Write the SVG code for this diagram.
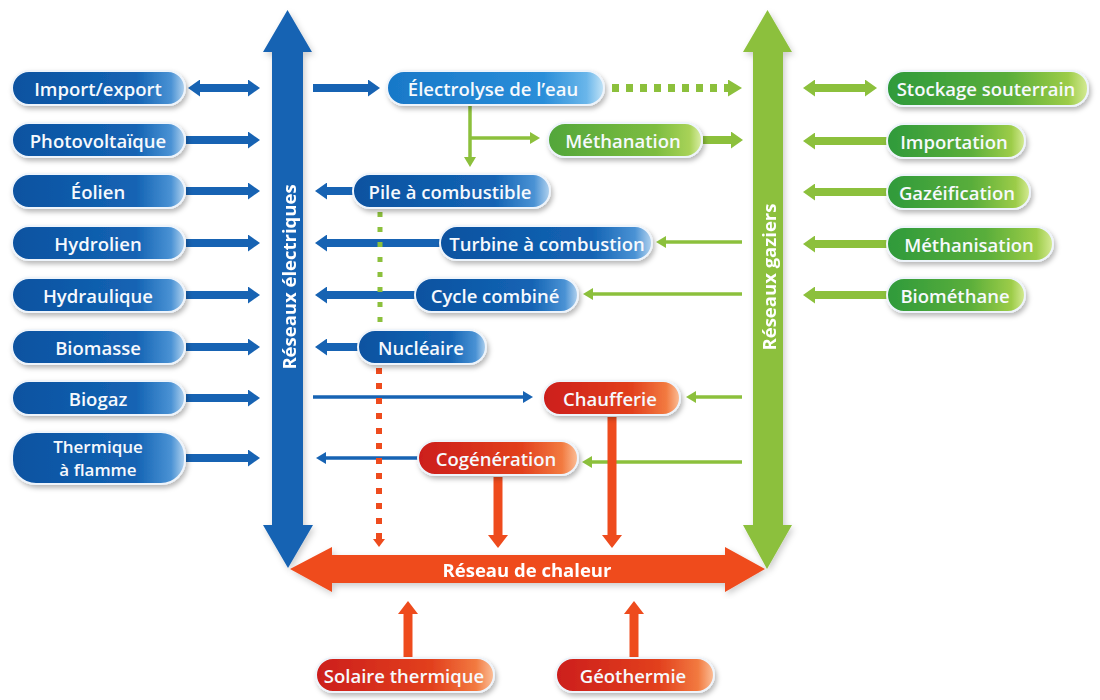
<svg xmlns="http://www.w3.org/2000/svg" width="1100" height="700" viewBox="0 0 1100 700">
<defs>
<style>
.t{font-family:"Open Sans","Liberation Sans",sans-serif;font-weight:600;font-size:18.5px;fill:#f6f9fd;text-anchor:middle;dominant-baseline:central}
.t2{font-size:17px}
.big{font-family:"Open Sans","Liberation Sans",sans-serif;font-weight:700;font-size:18.5px;fill:#ffffff;text-anchor:middle;dominant-baseline:central}
.pill{stroke:#eef4fb;stroke-width:2;filter:url(#sh)}
.pb{fill:url(#gBlue)}
.pl{fill:url(#gBlueL)}
.pg{fill:url(#gGreen)}
.pm{fill:url(#gGreenM)}
.pr{fill:url(#gRed)}
.bT{stroke:#1763b3;stroke-width:8;fill:none;marker-end:url(#mBT)}
.bN{stroke:#1763b3;stroke-width:3.5;fill:none;marker-end:url(#mBN)}
.gT{stroke:#8cc03c;stroke-width:8;fill:none;marker-end:url(#mGT)}
.gN{stroke:#8cc03c;stroke-width:3.5;fill:none;marker-end:url(#mGN)}
.rV{stroke:#ee4b1d;stroke-width:9;fill:none;marker-end:url(#mRV)}
</style>
<filter id="sh" x="-10%" y="-30%" width="125%" height="170%">
<feDropShadow dx="2" dy="3" stdDeviation="2.5" flood-color="#000" flood-opacity="0.28"/>
</filter>
<filter id="sh2" x="-10%" y="-10%" width="125%" height="125%">
<feDropShadow dx="2" dy="3" stdDeviation="3" flood-color="#000" flood-opacity="0.2"/>
</filter>
<linearGradient id="gBlue" x1="0" y1="0" x2="1" y2="0">
<stop offset="0" stop-color="#0a52a0"/><stop offset="0.72" stop-color="#1464b4"/><stop offset="0.92" stop-color="#4a92d4"/><stop offset="1" stop-color="#b3d3ef"/>
</linearGradient>
<linearGradient id="gBlueL" x1="0" y1="0" x2="1" y2="0">
<stop offset="0" stop-color="#1878c8"/><stop offset="0.72" stop-color="#2a8ed9"/><stop offset="0.92" stop-color="#6ab6ea"/><stop offset="1" stop-color="#c4e4f7"/>
</linearGradient>
<linearGradient id="gGreen" x1="0" y1="0" x2="1" y2="0">
<stop offset="0" stop-color="#2e9a3a"/><stop offset="0.6" stop-color="#5aae3a"/><stop offset="0.9" stop-color="#9ccc48"/><stop offset="1" stop-color="#d6eb96"/>
</linearGradient>
<linearGradient id="gGreenM" x1="0" y1="0" x2="1" y2="0">
<stop offset="0" stop-color="#52a63a"/><stop offset="0.7" stop-color="#7dbd40"/><stop offset="0.92" stop-color="#a8d258"/><stop offset="1" stop-color="#dcefa8"/>
</linearGradient>
<linearGradient id="gRed" x1="0" y1="0" x2="1" y2="0">
<stop offset="0" stop-color="#cc1e1a"/><stop offset="0.65" stop-color="#e2401e"/><stop offset="0.9" stop-color="#f27a40"/><stop offset="1" stop-color="#fbc09a"/>
</linearGradient>
<marker id="mBT" viewBox="0 0 12 17" markerWidth="12" markerHeight="17" refX="0" refY="8.5" orient="auto-start-reverse" markerUnits="userSpaceOnUse"><path d="M0,0 L12,8.5 L0,17 Z" fill="#1763b3"/></marker>
<marker id="mBN" viewBox="0 0 10 12" markerWidth="10" markerHeight="12" refX="0" refY="6" orient="auto-start-reverse" markerUnits="userSpaceOnUse"><path d="M0,0 L10,6 L0,12 Z" fill="#1763b3"/></marker>
<marker id="mGT" viewBox="0 0 12 17" markerWidth="12" markerHeight="17" refX="0" refY="8.5" orient="auto-start-reverse" markerUnits="userSpaceOnUse"><path d="M0,0 L12,8.5 L0,17 Z" fill="#8cc03c"/></marker>
<marker id="mGN" viewBox="0 0 10 12" markerWidth="10" markerHeight="12" refX="0" refY="6" orient="auto-start-reverse" markerUnits="userSpaceOnUse"><path d="M0,0 L10,6 L0,12 Z" fill="#8cc03c"/></marker>
<marker id="mGD" viewBox="0 0 14 17" markerWidth="14" markerHeight="17" refX="0" refY="8.5" orient="auto" markerUnits="userSpaceOnUse"><path d="M0,0 L14,8.5 L0,17 Z" fill="#8cc03c"/></marker>
<marker id="mRV" viewBox="0 0 13 20" markerWidth="13" markerHeight="20" refX="0" refY="10" orient="auto" markerUnits="userSpaceOnUse"><path d="M0,0 L13,10 L0,20 Z" fill="#ee4b1d"/></marker>
<marker id="mRS" viewBox="0 0 8 12" markerWidth="8" markerHeight="12" refX="0" refY="6" orient="auto" markerUnits="userSpaceOnUse"><path d="M0,0 L8,6 L0,12 Z" fill="#ee4b1d"/></marker>
</defs>
<rect width="1100" height="700" fill="#ffffff"/>

<g id="reseaux-electriques" filter="url(#sh2)">
<polygon points="287.5,10 312,52 303,52 303,525 313,525 288,568 263,525 272,525 272,52 263,52" fill="#1763b3"/>
<text class="big" x="288" y="277" transform="rotate(-90 288 277)">Réseaux électriques</text>
</g>
<g id="reseaux-gaziers" filter="url(#sh2)">
<polygon points="767.5,10 792,52 783,52 783,525 792,525 767,569 743,525 753,525 753,52 743,52" fill="#8cc03c"/>
<text class="big" x="768" y="277" transform="rotate(-90 768 277)">Réseaux gaziers</text>
</g>
<g id="reseau-chaleur" filter="url(#sh2)">
<polygon points="290,569 332,547 332,555 725,555 725,547 765,569 725,592 725,583 332,583 332,592" fill="#ef4b1c"/>
<text class="big" x="527" y="569">Réseau de chaleur</text>
</g>

<g id="connectors">
<line class="bT" x1="200" y1="88" x2="248" y2="88" marker-start="url(#mBT)"/>
<line class="bT" x1="186" y1="140" x2="248" y2="140"/>
<line class="bT" x1="186" y1="191" x2="248" y2="191"/>
<line class="bT" x1="186" y1="243" x2="248" y2="243"/>
<line class="bT" x1="186" y1="295" x2="248" y2="295"/>
<line class="bT" x1="186" y1="347" x2="248" y2="347"/>
<line class="bT" x1="186" y1="398" x2="248" y2="398"/>
<line class="bT" x1="186" y1="458" x2="248" y2="458"/>
<line class="bT" x1="313" y1="88" x2="368" y2="88"/>
<line class="bT" x1="354" y1="191" x2="327" y2="191"/>
<line class="bT" x1="441" y1="243" x2="327" y2="243"/>
<line class="bT" x1="416" y1="295" x2="327" y2="295"/>
<line class="bT" x1="359" y1="347" x2="327" y2="347"/>
<line class="bN" x1="313" y1="397" x2="523" y2="397"/>
<line class="bN" x1="418" y1="458" x2="326" y2="458"/>
<line class="gT" x1="703" y1="140" x2="731" y2="140"/>
<line class="gT" x1="815" y1="88" x2="865" y2="88" marker-start="url(#mGT)"/>
<line class="gT" x1="887" y1="141" x2="815" y2="141"/>
<line class="gT" x1="887" y1="192" x2="815" y2="192"/>
<line class="gT" x1="887" y1="244" x2="815" y2="244"/>
<line class="gT" x1="887" y1="295" x2="815" y2="295"/>
<line class="gN" x1="742" y1="242" x2="666" y2="242"/>
<line class="gN" x1="742" y1="294" x2="593" y2="294"/>
<line class="gN" x1="742" y1="397" x2="696" y2="397"/>
<line class="gN" x1="742" y1="462" x2="592" y2="462"/>
<line class="gN" x1="470" y1="106" x2="470" y2="157"/>
<line class="gN" x1="470" y1="138" x2="530" y2="138"/>
<line x1="612" y1="88" x2="728" y2="88" stroke="#8cc03c" stroke-width="8" stroke-dasharray="7 7" marker-end="url(#mGD)"/>
<line x1="380" y1="212" x2="380" y2="330" stroke="#8cc03c" stroke-width="5" stroke-dasharray="5 10"/>
<line x1="379" y1="368" x2="379" y2="539" stroke="#ee4b1d" stroke-width="6" stroke-dasharray="6 9" marker-end="url(#mRS)"/>
<line class="rV" x1="612" y1="417" x2="612" y2="535"/>
<line class="rV" x1="498" y1="477" x2="498" y2="535"/>
<line class="rV" x1="408" y1="657" x2="408" y2="614"/>
<line class="rV" x1="634" y1="657" x2="634" y2="614"/>
</g>

<g id="import-export"><rect class="pill pb" x="12" y="71" width="173" height="34" rx="17"/><text class="t" x="98" y="88">Import/export</text></g>
<g id="photovoltaique"><rect class="pill pb" x="12" y="123" width="173" height="34" rx="17"/><text class="t" x="98" y="140">Photovoltaïque</text></g>
<g id="eolien"><rect class="pill pb" x="12" y="174" width="173" height="34" rx="17"/><text class="t" x="98" y="191">Éolien</text></g>
<g id="hydrolien"><rect class="pill pb" x="12" y="226" width="173" height="34" rx="17"/><text class="t" x="98" y="243">Hydrolien</text></g>
<g id="hydraulique"><rect class="pill pb" x="12" y="278" width="173" height="34" rx="17"/><text class="t" x="98" y="295">Hydraulique</text></g>
<g id="biomasse"><rect class="pill pb" x="12" y="330" width="173" height="34" rx="17"/><text class="t" x="98" y="347">Biomasse</text></g>
<g id="biogaz"><rect class="pill pb" x="12" y="381" width="173" height="34" rx="17"/><text class="t" x="98" y="398">Biogaz</text></g>
<g id="thermique-flamme"><rect class="pill pb" x="12" y="432" width="173" height="52" rx="24"/><text class="t t2" x="98" y="446">Thermique</text><text class="t t2" x="98" y="469">à flamme</text></g>

<g id="electrolyse"><rect class="pill pl" x="387" y="71" width="217" height="34" rx="17"/><text class="t" x="493" y="88">Électrolyse de l’eau</text></g>
<g id="methanation"><rect class="pill pm" x="548" y="123" width="154" height="34" rx="17"/><text class="t" x="623" y="140">Méthanation</text></g>
<g id="pile-combustible"><rect class="pill pb" x="353" y="174" width="197" height="34" rx="17"/><text class="t" x="450" y="191">Pile à combustible</text></g>
<g id="turbine-combustion"><rect class="pill pb" x="440" y="226" width="212" height="34" rx="17"/><text class="t" x="547" y="243">Turbine à combustion</text></g>
<g id="cycle-combine"><rect class="pill pb" x="415" y="278" width="163" height="34" rx="17"/><text class="t" x="495" y="295">Cycle combiné</text></g>
<g id="nucleaire"><rect class="pill pb" x="358" y="330" width="128" height="34" rx="17"/><text class="t" x="421" y="347">Nucléaire</text></g>
<g id="chaufferie"><rect class="pill pr" x="543" y="381" width="137" height="34" rx="17"/><text class="t" x="610" y="398">Chaufferie</text></g>
<g id="cogeneration"><rect class="pill pr" x="418" y="441" width="160" height="34" rx="17"/><text class="t" x="496" y="458">Cogénération</text></g>
<g id="solaire-thermique"><rect class="pill pr" x="316" y="658" width="178" height="34" rx="17"/><text class="t" x="404" y="675">Solaire thermique</text></g>
<g id="geothermie"><rect class="pill pr" x="556" y="658" width="158" height="34" rx="17"/><text class="t" x="633" y="675">Géothermie</text></g>

<g id="stockage-souterrain"><rect class="pill pg" x="887" y="71" width="201" height="35" rx="17"/><text class="t" x="986" y="88">Stockage souterrain</text></g>
<g id="importation"><rect class="pill pg" x="887" y="124" width="138" height="34" rx="17"/><text class="t" x="954" y="141">Importation</text></g>
<g id="gazeification"><rect class="pill pg" x="887" y="175" width="143" height="34" rx="17"/><text class="t" x="957" y="192">Gazéification</text></g>
<g id="methanisation"><rect class="pill pg" x="887" y="227" width="166" height="34" rx="17"/><text class="t" x="969" y="244">Méthanisation</text></g>
<g id="biomethane"><rect class="pill pg" x="887" y="278" width="138" height="34" rx="17"/><text class="t" x="955" y="295">Biométhane</text></g>
</svg>
